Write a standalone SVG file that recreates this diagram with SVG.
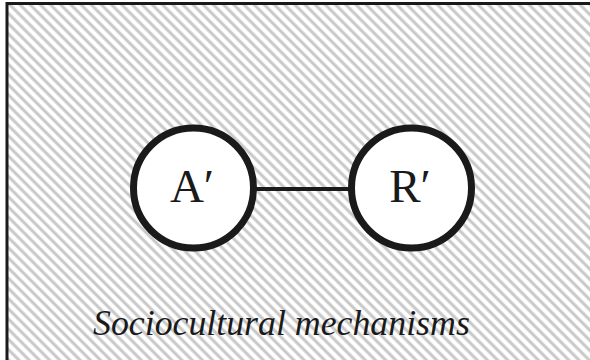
<svg xmlns="http://www.w3.org/2000/svg" width="590" height="360" viewBox="0 0 590 360">
  <defs>
    <pattern id="hatch" patternUnits="userSpaceOnUse" width="20" height="7.2" patternTransform="rotate(45)">
      <rect width="20" height="7.2" fill="#ffffff"/>
      <line x1="0" y1="3.6" x2="20" y2="3.6" stroke="#c8c8c8" stroke-width="3"/>
    </pattern>
    <style>
      .node circle { fill: #ffffff; stroke: #1a1a1a; stroke-width: 7; }
      .node text { font-family: "Liberation Serif", "Times New Roman", serif; font-size: 47px; fill: #1a1a1a; text-anchor: middle; }
      .edge { stroke: #1a1a1a; stroke-width: 4; fill: none; }
      .label { font-family: "Liberation Serif", "Times New Roman", serif; font-style: italic; font-size: 35.8px; fill: #1a1a1a; }
    </style>
  </defs>
  <rect x="0" y="0" width="590" height="360" fill="#ffffff"/>
  <rect id="background" x="7" y="3.5" width="600" height="380" fill="url(#hatch)" stroke="#1a1a1a" stroke-width="3"/>
  <g id="connectors">
    <line class="edge" x1="254" y1="189" x2="351" y2="189"/>
  </g>
  <g id="node-A" class="node">
    <circle cx="193.5" cy="188" r="60"/>
    <text x="192" y="202">A′</text>
  </g>
  <g id="node-R" class="node">
    <circle cx="411.5" cy="188" r="60"/>
    <text x="410" y="202">R′</text>
  </g>
  <text id="caption" class="label" x="93" y="335">Sociocultural mechanisms</text>
</svg>
